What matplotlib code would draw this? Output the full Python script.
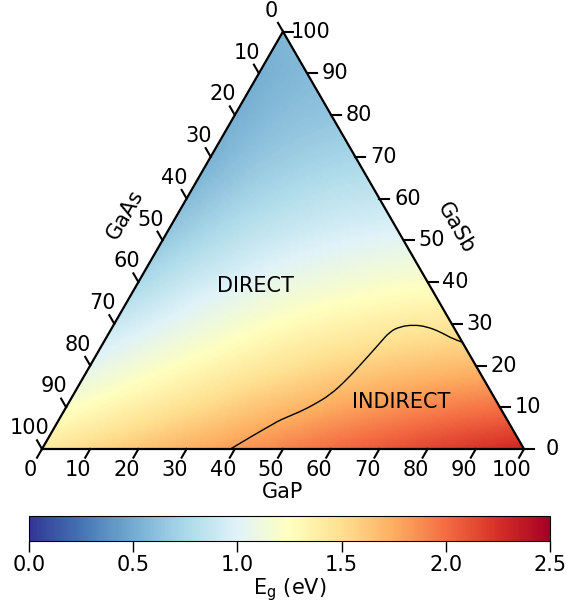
import numpy as np
import matplotlib
matplotlib.use("Agg")
import matplotlib.pyplot as plt
import matplotlib.tri as mtri
from matplotlib.path import Path
from matplotlib.patches import PathPatch

# band gap (eV) on a 10 % grid
# one row per GaSb content, each row runs GaP = 0, 10, 20 ... 100 - GaSb
gasb_rows = [0, 10, 20, 30, 40, 50, 60, 70, 80, 90, 100]
eg_rows = [
    [1.42, 1.53, 1.63, 1.73, 1.82, 1.91, 2.00, 2.08, 2.16, 2.23, 2.30],
    [1.22, 1.33, 1.44, 1.54, 1.64, 1.72, 1.80, 1.87, 1.93, 1.98],
    [1.04, 1.16, 1.27, 1.37, 1.46, 1.54, 1.60, 1.65, 1.69],
    [0.89, 1.01, 1.12, 1.22, 1.30, 1.36, 1.41, 1.44],
    [0.76, 0.89, 0.99, 1.08, 1.14, 1.19, 1.22],
    [0.66, 0.78, 0.88, 0.95, 1.00, 1.03],
    [0.59, 0.70, 0.78, 0.84, 0.87],
    [0.54, 0.64, 0.70, 0.74],
    [0.52, 0.60, 0.64],
    [0.52, 0.58],
    [0.55],
]

# direct / indirect boundary (GaP %, GaSb %)
boundary_gap = [39.1, 42.7, 45.0, 45.9, 49.1, 51.0, 53.3, 54.9, 56.2, 57.4,
                58.1, 59.6, 62.2, 65.2, 68.5, 72.2, 74.4]
boundary_gasb = [0.0, 3.8, 6.0, 6.95, 8.95, 10.55, 12.95, 16.55, 20.95, 25.35,
                 28.1, 29.3, 29.75, 29.3, 28.1, 26.3, 25.6]

tick_vals = list(range(0, 101, 10))
cbar_ticks = [0.0, 0.5, 1.0, 1.5, 2.0, 2.5]

h = np.sqrt(3) / 2


def tern(p, s):
    # GaP, GaSb fractions -> x, y
    p = np.asarray(p, dtype=float)
    s = np.asarray(s, dtype=float)
    return p + s / 2, s * h


fig = plt.figure(figsize=(5.66, 6.06), dpi=100)
ax = fig.add_axes([0, 106 / 606, 1, 500 / 606])
ax.set_xlim(-42 / 482, 524 / 482)
ax.set_ylim(-51 / 482, 449 / 482)
ax.axis("off")

# colour field
gp, gs, z = [], [], []
for s, row in zip(gasb_rows, eg_rows):
    for k, e in enumerate(row):
        gp.append(k * 10 / 100)
        gs.append(s / 100)
        z.append(e)
x, y = tern(gp, gs)
tri = mtri.Triangulation(x, y)
interp = mtri.CubicTriInterpolator(tri, np.array(z), kind="geom")
refiner = mtri.UniformTriRefiner(tri)
tri_f, z_f = refiner.refine_field(np.array(z), triinterpolator=interp, subdiv=4)
im = ax.tripcolor(tri_f, z_f, cmap="RdYlBu_r", vmin=0, vmax=2.5, shading="gouraud")

# boundary line, smoothed with quadratic curve pieces through the read points
bx, by = tern(np.array(boundary_gap) / 100, np.array(boundary_gasb) / 100)
verts = [(bx[0], by[0])]
codes = [Path.MOVETO]
for i in range(1, len(bx) - 1):
    mid = ((bx[i] + bx[i + 1]) / 2, (by[i] + by[i + 1]) / 2)
    if i == len(bx) - 2:
        mid = (bx[-1], by[-1])
    verts += [(bx[i], by[i]), mid]
    codes += [Path.CURVE3, Path.CURVE3]
ax.add_patch(PathPatch(Path(verts, codes), facecolor="none", edgecolor="k", lw=1.0))

# triangle
ax.plot([0, 1, 0.5, 0], [0, 0, h, 0], color="k", lw=1.6, solid_joinstyle="miter",
        solid_capstyle="projecting")

tl = 10 / 482
fs = 15
for v in tick_vals:
    f = v / 100
    # bottom: GaP
    x0, y0 = f, 0
    d = np.array([-0.5, -h])
    ax.plot([x0, x0 + tl * d[0]], [y0, y0 + tl * d[1]], color="k", lw=1.5)
    lx, ly = x0 + (tl + 14 / 482) * d[0], y0 + (tl + 14 / 482) * d[1]
    ax.text(lx, ly, str(v), ha="center", va="center", fontsize=fs)
    # left: GaAs (0 at top)
    s = 1 - f
    x0, y0 = s / 2, s * h
    d = np.array([-0.5, h])
    ax.plot([x0, x0 + tl * d[0]], [y0, y0 + tl * d[1]], color="k", lw=1.5)
    lx, ly = x0 + (tl + 14 / 482) * d[0], y0 + (tl + 14 / 482) * d[1]
    ax.text(lx, ly, str(v), ha="center", va="center", fontsize=fs)
    # right: GaSb
    x0, y0 = 1 - f / 2, f * h
    ax.plot([x0, x0 + tl], [y0, y0], color="k", lw=1.5)
    ax.text(x0 + tl + 18 / 482, y0, str(v), ha="center", va="center", fontsize=fs)

ax.text(0.5, -0.0892, "GaP", ha="center", va="center", fontsize=fs)
ax.text(0.172, 0.4855, "GaAs", ha="center", va="center", rotation=60, fontsize=fs)
ax.text(0.858, 0.4595, "GaSb", ha="center", va="center", rotation=-60, fontsize=fs)
ax.text(0.442, 0.338, "DIRECT", ha="center", va="center", fontsize=fs)
ax.text(0.746, 0.0965, "INDIRECT", ha="center", va="center", fontsize=fs)

cax = fig.add_axes([29 / 566, 65 / 606, 521 / 566, 25 / 606])
cb = fig.colorbar(im, cax=cax, orientation="horizontal")
cb.set_ticks(cbar_ticks)
cb.ax.tick_params(labelsize=fs, length=8, width=1, pad=2)
cb.set_label(r"E$_\mathregular{g}$ (eV)", fontsize=fs, labelpad=1)

fig.savefig("out.png", dpi=100)
